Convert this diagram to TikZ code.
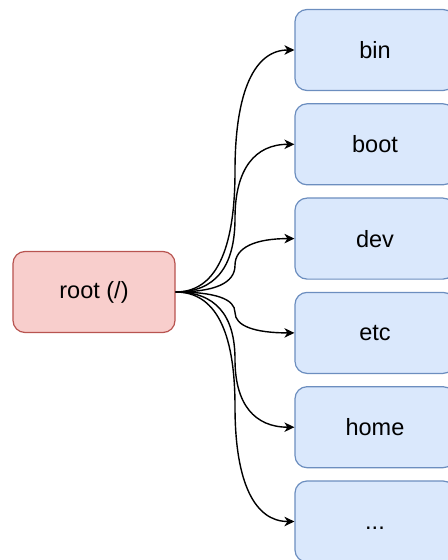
\documentclass[tikz,border=0pt]{standalone}
\usepackage{fontspec}
\setmainfont{Liberation Sans}
\usetikzlibrary{arrows.meta}
\definecolor{rootfill}{HTML}{F8CECC}
\definecolor{rootline}{HTML}{B85450}
\definecolor{dirfill}{HTML}{DAE8FC}
\definecolor{dirline}{HTML}{6C8EBF}
\tikzset{
  rootbox/.style={draw=rootline, fill=rootfill, line width=1.2bp, rounded corners=12bp,
    minimum width=162bp, minimum height=81bp, inner sep=0pt, font=\fontsize{23.5bp}{28bp}\selectfont},
  dirbox/.style={draw=dirline, fill=dirfill, line width=1.2bp, rounded corners=12bp,
    minimum width=160bp, minimum height=81bp, inner sep=0pt, font=\fontsize{23.5bp}{28bp}\selectfont},
  link/.style={draw=black, line width=1.4bp, -{Stealth[length=10bp, width=9.5bp, inset=3bp]}}
}
\begin{document}
\begin{tikzpicture}[x=1bp, y=-1bp]
\useasboundingbox (0,0) rectangle (448,560);
\clip (0,0) rectangle (448,560);
\node[rootbox] (root) at (94,292) {root (/)};
\node[dirbox] (bin)  at (375,50)    {bin};
\node[dirbox] (boot) at (375,144.3) {boot};
\node[dirbox] (dev)  at (375,238.6) {dev};
\node[dirbox] (etc)  at (375,332.9) {etc};
\node[dirbox] (home) at (375,427.2) {home};
\node[dirbox] (more) at (375,521.5) {\vphantom{b}...};
\foreach \n/\yt in {bin/50, boot/144.3, dev/238.6, etc/332.9, home/427.2, more/521.5}{
  \pgfmathsetmacro{\ym}{(292+\yt)/2}
  \pgfmathsetmacro{\ca}{\ym+(292-\yt)/3}
  \pgfmathsetmacro{\cb}{\ym+(\yt-292)/3}
  \coordinate (m-\n) at (235,\ym);
  \draw[link] (root.east) .. controls (215,292) and (235,\ca) .. (m-\n)
     .. controls (235,\cb) and (255,\yt) .. (\n.west);
}
\end{tikzpicture}
\end{document}
